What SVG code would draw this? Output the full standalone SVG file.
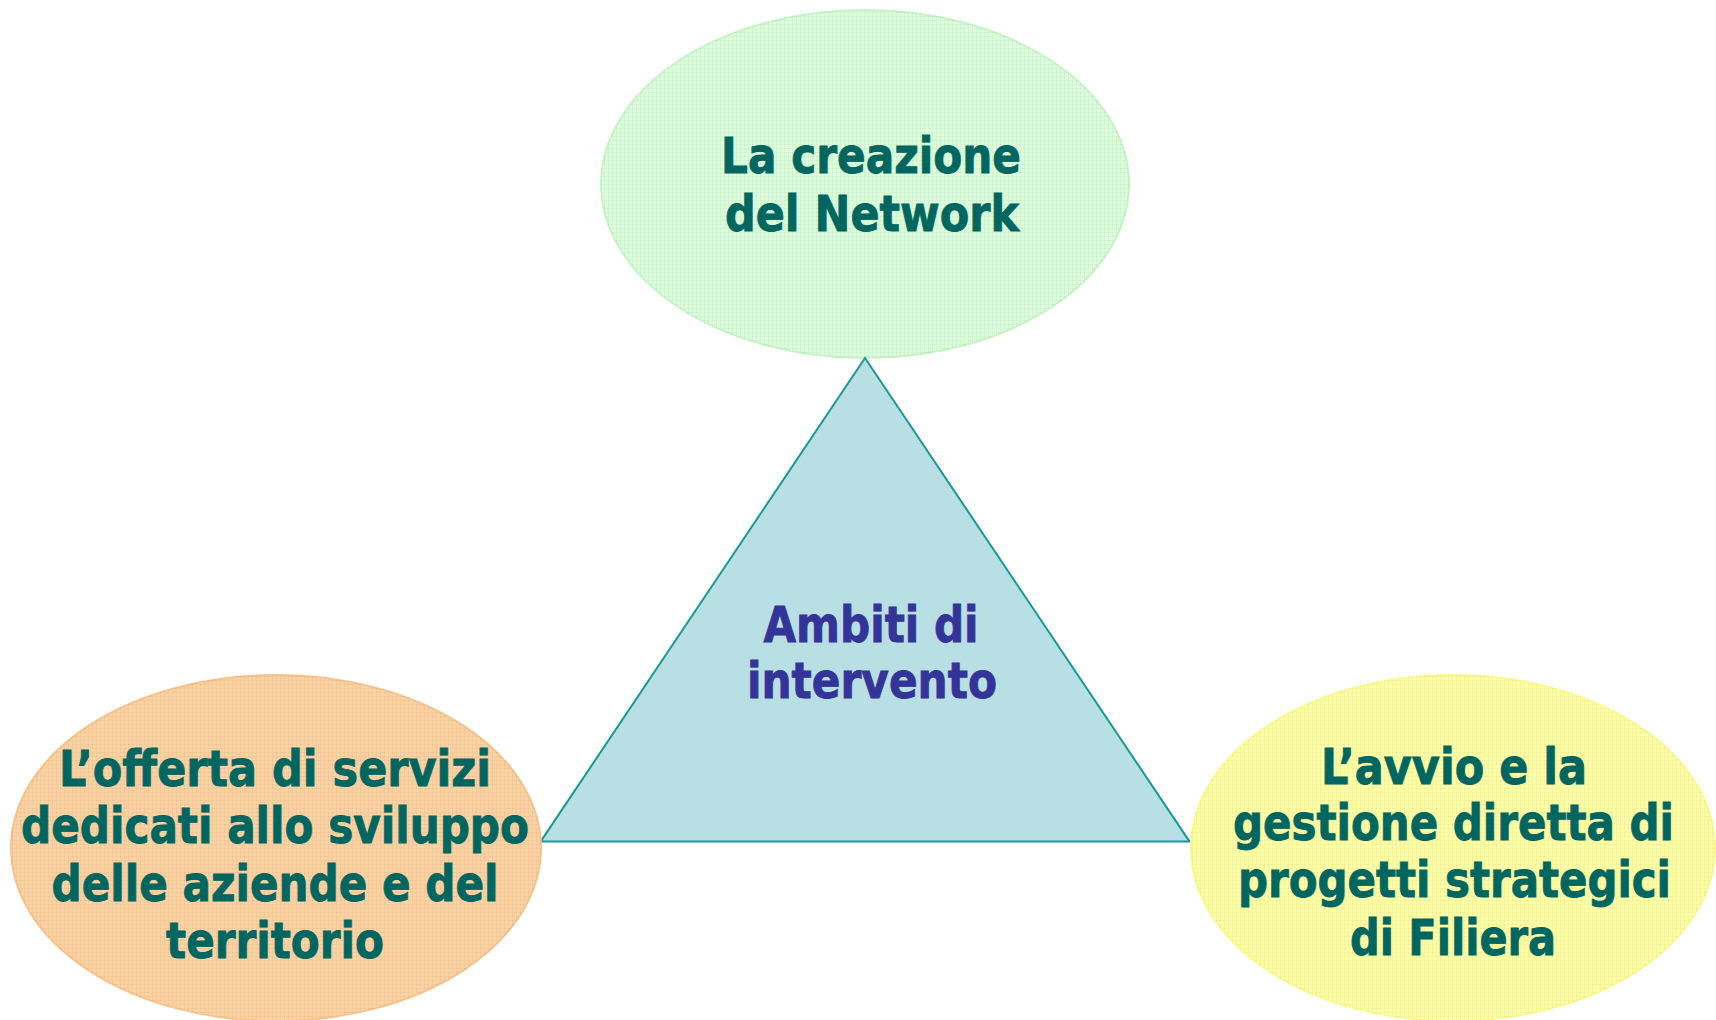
<svg xmlns="http://www.w3.org/2000/svg" width="1716" height="1020" viewBox="0 0 1716 1020">
<defs>
<pattern id="grid" width="4" height="4" patternUnits="userSpaceOnUse">
<path d="M0 0.5H4M0.5 0V4" stroke="#000" stroke-opacity="0.035" stroke-width="1" fill="none"/>
</pattern>
<style>
.lbl{font-family:"DejaVu Sans","Verdana",sans-serif;font-weight:bold;font-size:50px;text-anchor:middle;fill:#00665f;stroke:#00665f;stroke-width:0.9px}
.ctr{fill:#333399;stroke:#333399}
</style>
</defs>
<rect width="1716" height="1020" fill="#ffffff"/>
<g id="connectors"></g>
<g id="node-top">
<ellipse cx="865" cy="184" rx="264" ry="174" fill="#dcffdc" stroke="#c6f5c6" stroke-width="2"/>
<ellipse cx="865" cy="184" rx="264" ry="174" fill="url(#grid)"/>
<text class="lbl" x="871" y="173" textLength="300" lengthAdjust="spacingAndGlyphs">La creazione</text>
<text class="lbl" x="872" y="231" textLength="294" lengthAdjust="spacingAndGlyphs">del Network</text>
</g>
<g id="node-center">
<polygon points="865,358 540.6,841.6 1189.6,841.6" fill="#b8dfe3" stroke="#179a97" stroke-width="2" stroke-linejoin="miter"/>
<text class="lbl ctr" x="871" y="642" textLength="215" lengthAdjust="spacingAndGlyphs">Ambiti di</text>
<text class="lbl ctr" x="872" y="698" textLength="250" lengthAdjust="spacingAndGlyphs">intervento</text>
</g>
<g id="node-left">
<ellipse cx="276" cy="848" rx="265" ry="173" fill="#fdd2a3" stroke="#f8c38c" stroke-width="2"/>
<ellipse cx="276" cy="848" rx="265" ry="173" fill="url(#grid)"/>
<text class="lbl" x="275" y="786" textLength="432" lengthAdjust="spacingAndGlyphs">L’offerta di servizi</text>
<text class="lbl" x="275" y="843" textLength="508" lengthAdjust="spacingAndGlyphs">dedicati allo sviluppo</text>
<text class="lbl" x="275" y="901" textLength="447" lengthAdjust="spacingAndGlyphs">delle aziende e del</text>
<text class="lbl" x="275" y="958" textLength="218" lengthAdjust="spacingAndGlyphs">territorio</text>
</g>
<g id="node-right">
<ellipse cx="1453" cy="848" rx="262" ry="173" fill="#ffffa6" stroke="#fafa8c" stroke-width="2"/>
<ellipse cx="1453" cy="848" rx="262" ry="173" fill="url(#grid)"/>
<text class="lbl" x="1454" y="784" textLength="266" lengthAdjust="spacingAndGlyphs">L’avvio e la</text>
<text class="lbl" x="1453.5" y="840" textLength="441" lengthAdjust="spacingAndGlyphs">gestione diretta di</text>
<text class="lbl" x="1454.5" y="897" textLength="433" lengthAdjust="spacingAndGlyphs">progetti strategici</text>
<text class="lbl" x="1453" y="955" textLength="206" lengthAdjust="spacingAndGlyphs">di Filiera</text>
</g>
</svg>
